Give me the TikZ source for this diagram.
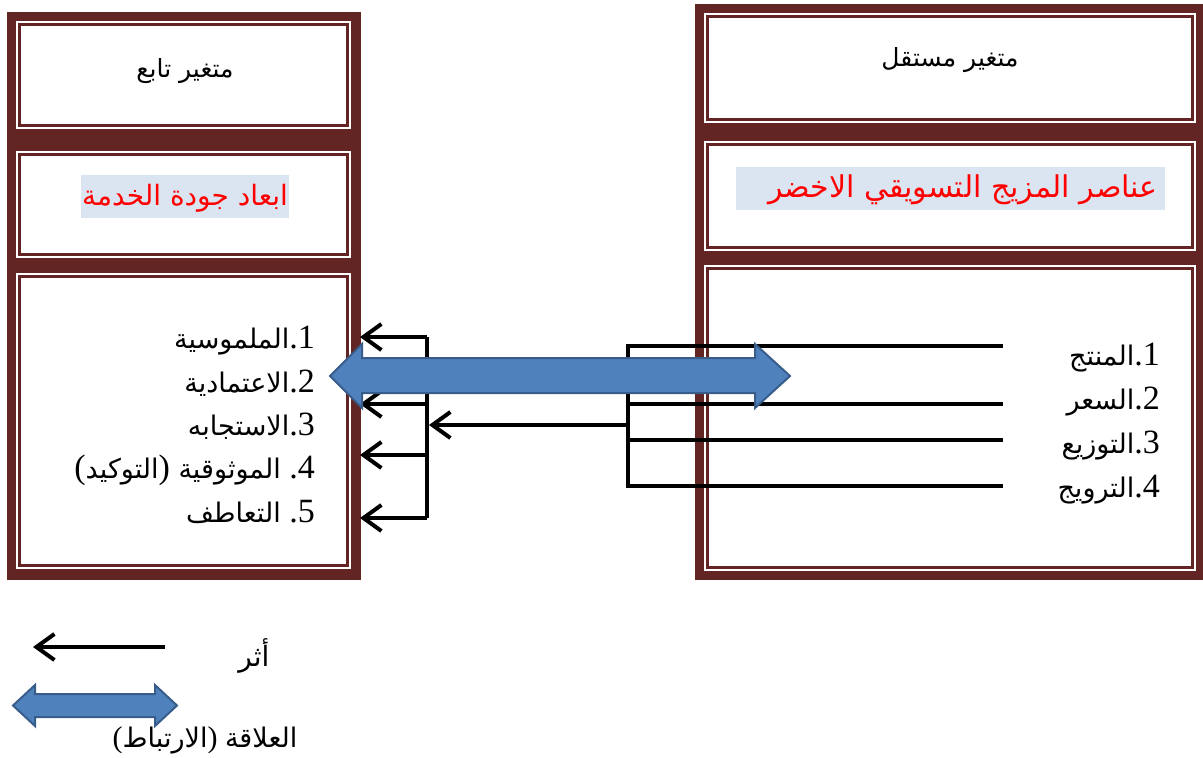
\documentclass[tikz,border=0pt]{standalone}
\usepackage{fontspec}
\setmainfont{Liberation Serif}
\newfontfamily\ar[Script=Arabic]{DejaVu Sans}
\TeXXeTstate=1
\usetikzlibrary{arrows.meta}
\definecolor{framec}{HTML}{632523}
\definecolor{hlc}{HTML}{DBE5F1}
\definecolor{bfill}{HTML}{4F81BD}
\definecolor{bline}{HTML}{385D8A}
\newcommand\mypanel[4]{%
  \draw[white,line width=1.2pt] (#1,#2) rectangle (#3,#4);
  \fill[white] ({#1+4},{#2+4}) rectangle ({#3-4},{#4-4});}
\tikzset{
  conn/.style={line width=4pt},
  arr/.style={line width=4pt,-{Straight Barb[length=18pt,width=26pt,line width=4pt]}},
  item/.style={anchor=base east,inner sep=0pt,font=\fontsize{34}{40}\selectfont},
  title/.style={inner sep=0pt,font=\ar\fontsize{25}{29}\selectfont},
  hlbox/.style={fill=hlc,inner sep=0pt},
  redtext/.style={text=red,inner sep=0pt},
  blue/.style={fill=bfill,draw=bline,line width=2pt,line join=miter}
}
\newcommand\arw[1]{{\ar\fontsize{27}{31}\selectfont #1}}
\begin{document}
\begin{tikzpicture}[x=1pt,y=-1pt]
\useasboundingbox (0,0) rectangle (1203,758);
% left frame
\fill[framec] (7,12) rectangle (361,580);
\mypanel{17}{22}{350}{128}
\mypanel{17}{152}{350}{257}
\mypanel{17}{274}{350}{568}
% right frame
\fill[framec] (695,4) rectangle (1203,580);
\mypanel{705}{14}{1195}{122}
\mypanel{705}{142}{1195}{250}
\mypanel{705}{266}{1195}{570}
% titles
\node[title] (lt) at (185,71) {\beginR متغير تابع\endR};
\node[title] (rt) at (950,60) {\beginR متغير مستقل\endR};
\node[hlbox,minimum width=208pt,minimum height=43pt] (lh) at (185,196.5) {};
\node[redtext,font=\ar\fontsize{28}{32}\selectfont] (lht) at (185,198) {\beginR ابعاد جودة الخدمة\endR};
\node[hlbox,minimum width=429pt,minimum height=43pt] (rh) at (950.5,188.5) {};
\node[redtext,font=\ar\fontsize{30}{34}\selectfont,anchor=east] (rht) at (1158,190) {\beginR عناصر المزيج التسويقي الاخضر\endR};
% left list
\node[item] (l1) at (315,348) {\arw{الملموسية}.1};
\node[item] (l2) at (315,392) {\arw{الاعتمادية}.2};
\node[item] (l3) at (315,435) {\arw{الاستجابه}.3};
\node[item] (l4) at (315,478) {(\arw{التوكيد}) \arw{الموثوقية} .4};
\node[item] (l5) at (315,522) {\arw{التعاطف} .5};
% right list
\node[item] (r1) at (1160,365) {\arw{المنتج}.1};
\node[item] (r2) at (1160,409) {\arw{السعر}.2};
\node[item] (r3) at (1160,453) {\arw{التوزيع}.3};
\node[item] (r4) at (1160,497) {\arw{الترويج}.4};
% connector coordinates
\coordinate (e1) at (1003,346); \coordinate (b1) at (628,346);
\coordinate (e2) at (1003,404); \coordinate (b2) at (628,404);
\coordinate (e3) at (1003,440); \coordinate (b3) at (628,440);
\coordinate (e4) at (1003,486); \coordinate (b4) at (628,486);
\coordinate (bm) at (628,425);
\coordinate (lm) at (429,425);
\coordinate (lb1) at (427,337); \coordinate (la1) at (360,337);
\coordinate (lb2) at (427,404); \coordinate (la2) at (360,404);
\coordinate (lb3) at (427,455); \coordinate (la3) at (360,455);
\coordinate (lb4) at (427,518); \coordinate (la4) at (360,518);
% right bracket
\draw[conn] (e1) -- (b1) -- (b4) -- (e4);
\draw[conn] (e2) -- (b2);
\draw[conn] (e3) -- (b3);
\draw[arr] (bm) -- (lm);
% left bracket
\draw[conn] (lb1) -- (lb4);
\draw[arr] (lb1) -- (la1);
\draw[arr] (lb2) -- (la2);
\draw[arr] (lb3) -- (la3);
\draw[arr] (lb4) -- (la4);
% blue double arrow (relation)
\draw[blue] (330,376) -- (362,344) -- (362,358) -- (755,358) -- (755,344) -- (790,376)
  -- (755,408) -- (755,393) -- (362,393) -- (362,408) -- cycle;
% legend
\coordinate (ka) at (165,647); \coordinate (kb) at (33,647);
\draw[arr] (ka) -- (kb);
\node[title,font=\ar\fontsize{28}{32}\selectfont] (kt1) at (254,656) {أثر};
\draw[blue] (13,705.5) -- (35,685) -- (35,694) -- (155,694) -- (155,685) -- (177,705.5)
  -- (155,726) -- (155,717) -- (35,717) -- (35,726) -- cycle;
\node[inner sep=0pt,font=\fontsize{30}{34}\selectfont] (kt2) at (205,740) {(\arw{الارتباط}) \arw{العلاقة}};
\end{tikzpicture}
\end{document}
